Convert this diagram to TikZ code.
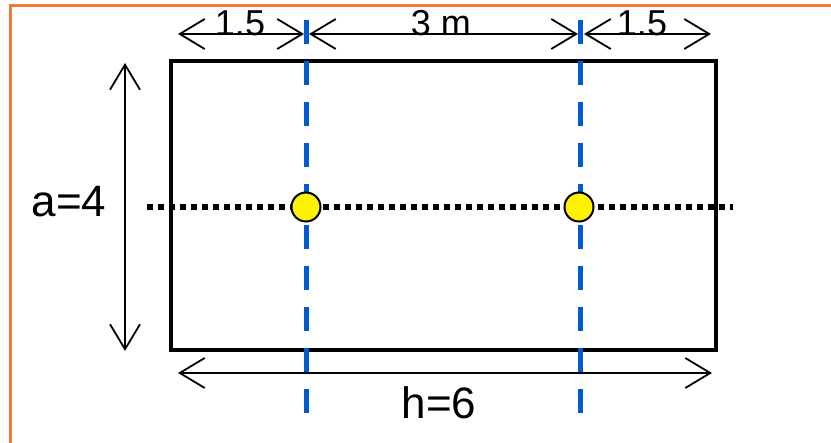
\documentclass[tikz,border=0pt]{standalone}
\usepackage{fontspec}
\setmainfont{Liberation Sans}
\usetikzlibrary{arrows.meta}
\definecolor{frameorange}{RGB}{237,125,49}
\definecolor{axisblue}{RGB}{0,90,210}
\begin{document}
\begin{tikzpicture}[x=1pt,y=-1pt,>={Straight Barb[length=25pt,width=30pt]}]
  \tikzstyle{dim}=[<->, line width=1.8pt]
  \tikzstyle{axis}=[axisblue, line width=5pt, dash pattern=on 24pt off 17pt]
  \tikzstyle{rowline}=[line width=5.5pt, dash pattern=on 5.5pt off 5.5pt]
  \tikzstyle{pile}=[circle, draw, fill=yellow, line width=2pt, minimum size=29pt, inner sep=0pt]
  \tikzstyle{lbl}=[font=\fontsize{36}{40}\selectfont, anchor=base, inner sep=0pt]
  \tikzstyle{biglbl}=[font=\fontsize{44}{48}\selectfont, anchor=base, inner sep=0pt]

  \useasboundingbox (0,0) rectangle (831,443);
  \draw[frameorange, line width=2.5pt] (10.5,443) -- (10.5,5.5) -- (831,5.5);

  \node[draw, line width=4.5pt, minimum width=545pt, minimum height=289pt, inner sep=0pt] (slab) at (443.5,205.5) {};

  % centre lines of the piles
  \coordinate (axisAtop) at (306,20);  \coordinate (axisAbot) at (306,413);
  \coordinate (axisBtop) at (580,20);  \coordinate (axisBbot) at (580,413);
  \draw[axis] (axisAtop) -- (axisAbot);
  \draw[axis] (axisBtop) -- (axisBbot);

  \coordinate (rowL) at (147,207);  \coordinate (rowR) at (733,207);
  \draw[rowline] (rowL) -- (rowR);

  % dimensions
  \coordinate (d0) at (178,34);  \coordinate (d1) at (304,34);
  \coordinate (d2) at (309,34);  \coordinate (d3) at (578,34);
  \coordinate (d4) at (584,34);  \coordinate (d5) at (711,34);
  \coordinate (vtop) at (125,63);  \coordinate (vbot) at (125,351);
  \coordinate (hleft) at (178,373);  \coordinate (hright) at (712,373);
  \draw[dim] (d0) -- (d1);
  \draw[dim] (d2) -- (d3);
  \draw[dim] (d4) -- (d5);
  \draw[dim] (vtop) -- (vbot);
  \draw[dim] (hleft) -- (hright);

  \node[pile] (pileA) at (306,207) {};
  \node[pile] (pileB) at (579,207) {};

  \node[lbl] (lenL) at (240,36) {1.5};
  \node[lbl] (lenM) at (441,36) {3 m};
  \node[lbl] (lenR) at (642,36) {1.5};
  \node[biglbl] (lenA) at (69,217) {a=4};
  \node[biglbl] (lenH) at (439,419) {h=6};
\end{tikzpicture}
\end{document}
